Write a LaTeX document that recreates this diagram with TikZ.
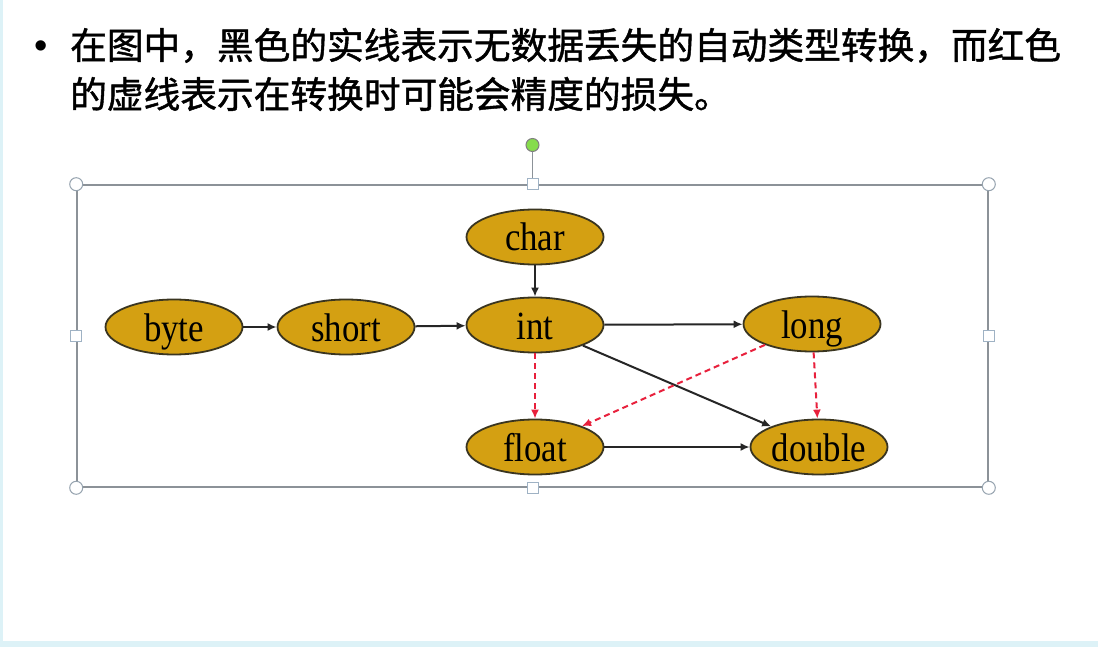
\documentclass[tikz,border=0pt]{standalone}
\usepackage{graphicx}
\usepackage{fontspec}
\setmainfont{Liberation Serif}
\newfontfamily\cjkfont[FakeBold=1.2]{Noto Sans CJK SC}
\newfontfamily\bulletfont{Liberation Sans}
\usetikzlibrary{shapes.geometric,arrows.meta}
\definecolor{typegold}{HTML}{D4A012}
\definecolor{typeline}{HTML}{3A3520}
\definecolor{lossred}{HTML}{E8203C}
\definecolor{framegray}{HTML}{8C9298}
\definecolor{handleblue}{HTML}{9FB2C4}
\definecolor{slideedge}{HTML}{DDF2F7}
\definecolor{rotgreen}{HTML}{86DC4C}
\newcommand{\typelabel}[1]{\scalebox{0.87}[1]{#1}}
\begin{document}
\begin{tikzpicture}[x=1pt,y=-1pt,
  typenode/.style={ellipse,draw=typeline,line width=1.8pt,fill=typegold,
    minimum width=137pt,minimum height=55pt,inner sep=0pt,
    text height=33pt,text depth=5pt,
    font=\fontsize{40}{42}\selectfont},
  safe/.style={draw=black!85,line width=2pt,-{Latex[length=9pt,width=8pt]}},
  lossy/.style={draw=lossred,line width=2pt,dash pattern=on 6pt off 4pt,
    -{Latex[length=9pt,width=8pt]}},
  selframe/.style={draw=framegray,line width=1.6pt,minimum width=911pt,
    minimum height=302pt,inner sep=0pt},
  cornerhandle/.style={circle,draw=handleblue!70!gray,fill=white,line width=1pt,
    minimum size=13pt,inner sep=0pt},
  sidehandle/.style={rectangle,draw=handleblue,fill=white,line width=1pt,
    minimum size=11pt,inner sep=0pt},
  rothandle/.style={circle,draw=gray,fill=rotgreen,line width=1pt,
    minimum size=13pt,inner sep=0pt},
  cjktext/.style={anchor=base west,inner sep=0pt,
    font=\cjkfont\fontsize{36.7}{44}\selectfont}
]
\useasboundingbox (0,0) rectangle (1098,647);
\fill[white] (0,0) rectangle (1098,647);
\fill[slideedge] (0,0) rectangle (3,647);
\fill[slideedge] (0,641) rectangle (1098,647);

% title text
\node[anchor=base,inner sep=0pt,font=\bulletfont\fontsize{38}{38}\selectfont] (bullet) at (41,59) {•};
\node[cjktext] (line1) at (70,59) {在图中，黑色的实线表示无数据丢失的自动类型转换，而红色};
\node[cjktext] (line2) at (70,108) {的虚线表示在转换时可能会精度的损失。};

% selection frame
\node[selframe] (sel) at (532.5,336) {};
\node[sidehandle] (topmid) at (sel.north) {};
\node[sidehandle] (botmid) at (sel.south) {};
\node[sidehandle] (leftmid) at (sel.west) {};
\node[sidehandle] (rightmid) at (sel.east) {};
\node[cornerhandle] (tl) at (sel.north west) {};
\node[cornerhandle] (tr) at (sel.north east) {};
\node[cornerhandle] (bl) at (sel.south west) {};
\node[cornerhandle] (br) at (sel.south east) {};
\node[rothandle] (rot) at (532.5,145) {};
\draw[framegray,line width=1.2pt] (rot) -- (topmid);

% type nodes
\node[typenode] (byte) at (174,327) {\typelabel{byte}};
\node[typenode] (short) at (346,327) {\typelabel{short}};
\node[typenode] (char) at (535,237) {\typelabel{char}};
\node[typenode] (int) at (535,325) {\typelabel{int}};
\node[typenode] (long) at (812,324) {\typelabel{long}};
\node[typenode] (float) at (535,447) {\typelabel{float}};
\node[typenode] (double) at (819,447) {\typelabel{double}};

% conversions
\draw[safe] (byte) -- (short);
\draw[safe] (short) -- (int);
\draw[safe] (char) -- (int);
\draw[safe] (int) -- (long);
\draw[safe] (int) -- (double);
\draw[safe] (float) -- (double);
\draw[lossy] (int) -- (float);
\draw[lossy] (long) -- (float);
\draw[lossy] (long) -- (double);
\end{tikzpicture}
\end{document}
